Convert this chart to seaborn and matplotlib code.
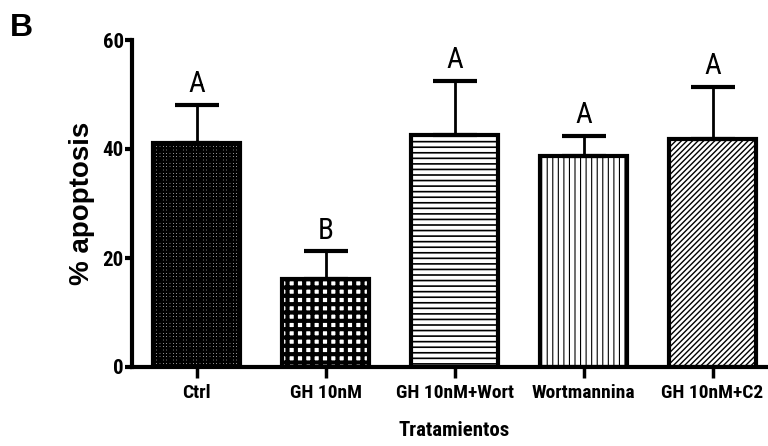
import numpy as np
import matplotlib
matplotlib.use('Agg')
import matplotlib.pyplot as plt
import matplotlib.font_manager as fm
import seaborn as sns

# values
categories = ['Ctrl', 'GH 10nM', 'GH 10nM+Wort', 'Wortmannina', 'GH 10nM+C2']
means = [41.1, 16.1, 42.6, 38.8, 41.9]
sem = [7.0, 5.1, 9.9, 3.6, 9.5]
letters = ['A', 'B', 'A', 'A', 'A']
yticks = [0, 20, 40, 60]

sns.set_style('ticks')

# look for a narrow sans font, otherwise shrink the text
installed = {f.name for f in fm.fontManager.ttflist}
condensed = {f.name for f in fm.fontManager.ttflist if 'ondensed' in str(f.stretch) or 'arrow' in f.fname}
narrow = None
for n in ['Liberation Sans Narrow', 'Roboto Condensed', 'Open Sans Condensed', 'DejaVu Sans Condensed']:
    if n in installed:
        narrow = n
        break
if narrow is None and 'DejaVu Sans' in condensed:
    narrow = 'DejaVu Sans'
if narrow is not None:
    tick_fs, lab_fs = 14, 15
    fam = [narrow, 'DejaVu Sans']
else:
    tick_fs, lab_fs = 11, 13
    fam = ['Liberation Sans', 'DejaVu Sans']

plt.rcParams['font.family'] = fam
plt.rcParams['font.stretch'] = 'condensed'
plt.rcParams['text.color'] = 'black'
plt.rcParams['axes.labelcolor'] = 'black'
plt.rcParams['xtick.color'] = 'black'
plt.rcParams['ytick.color'] = 'black'
plt.rcParams['axes.edgecolor'] = 'black'

fig = plt.figure(figsize=(7.68, 4.46), dpi=100)
ax = fig.add_axes([132 / 768, 79 / 446, 645 / 768, 327 / 446])

sns.barplot(x=categories, y=means, color='white', saturation=1, edgecolor='black',
            linewidth=3, width=0.67, ax=ax, zorder=2)

# patterns per bar (Prism style)
hatches = ['+++++', '++', '---', '|||', '//////']
hatch_lw = [1.75, 3.0, 1.2, 0.8, 1.0]
for p, h, lw in zip(ax.patches, hatches, hatch_lw):
    p.set_hatch(h)
    try:
        p.set_hatch_linewidth(lw)
    except AttributeError:
        pass

# upper error bars only
x = np.arange(len(categories))
ax.errorbar(x, means, yerr=[np.zeros(len(sem)), sem], fmt='none', ecolor='black',
            elinewidth=2, capsize=15.5, capthick=3, zorder=3)

for xi, m, s, lab in zip(x, means, sem, letters):
    ax.text(xi, m + s + 1.2, lab, ha='center', va='bottom', fontsize=21,
            fontweight='normal')

ax.set_xlim(-0.5, 4.5)
ax.set_ylim(0, 60)
ax.set_yticks(yticks)
ax.set_yticklabels([str(t) for t in yticks], fontsize=tick_fs + 1, fontweight='bold')
ax.set_xticks(x)
ax.set_xticklabels(categories, fontsize=tick_fs, fontweight='bold')
ax.tick_params(axis='y', direction='out', length=5, width=3, pad=1)
ax.tick_params(axis='x', direction='out', length=8, width=2.5, pad=4)
for side in ['left', 'bottom']:
    ax.spines[side].set_linewidth(3)
sns.despine(ax=ax)

ax.set_xlabel('Tratamientos', fontsize=lab_fs, fontweight='bold', labelpad=14)
ax.set_ylabel('% apoptosis', fontsize=20, fontweight='bold', labelpad=5,
              family=['Liberation Sans', 'DejaVu Sans'], fontstretch='normal')

fig.text(10 / 768, 1 - 36 / 446, 'B', fontsize=23, fontweight='bold',
         family=['Liberation Sans', 'DejaVu Sans'], fontstretch='normal')

fig.savefig('out.png', dpi=100)
